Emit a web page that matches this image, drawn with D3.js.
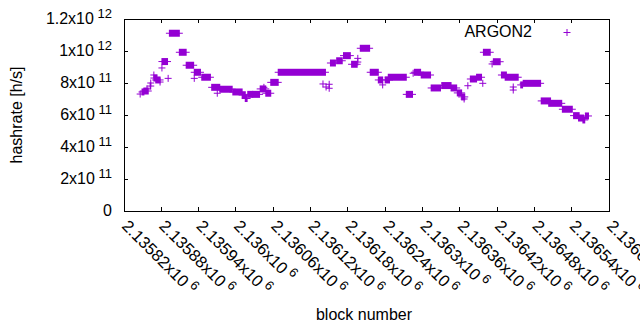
<!DOCTYPE html>
<html lang="en">
<head>
    <meta charset="UTF-8">
    <title>ARGON2 hashrate</title>
    <script src="https://cdn.jsdelivr.net/npm/d3@7"></script>
    <style>
        body { margin: 0; background: #fff; }
        text { font-family: "Liberation Sans", Arial, sans-serif; fill: #000; }
    </style>
</head>
<body>
    <script>
        // runs of blocks with the same hashrate value (each block is one "+" point)
        const runStart = [2135846, 2135849, 2135852, 2135857, 2135862, 2135863, 2135868, 2135868, 2135871, 2135878,
            2135881, 2135881, 2135891, 2135893, 2135909, 2135920, 2135933, 2135933, 2135945, 2135961,
            2135970, 2135974, 2135995, 2136010, 2136015, 2136019, 2136027, 2136039, 2136045, 2136048,
            2136056, 2136068, 2136140, 2136145, 2136150, 2136150, 2136152, 2136162, 2136173, 2136186,
            2136196, 2136196, 2136200, 2136216, 2136229, 2136236, 2136240, 2136245, 2136274, 2136285,
            2136287, 2136298, 2136314, 2136331, 2136346, 2136356, 2136363, 2136367, 2136373, 2136377,
            2136387, 2136397, 2136398, 2136412, 2136414, 2136427, 2136433, 2136446, 2136446, 2136458,
            2136462, 2136491, 2136503, 2136525, 2136543, 2136551, 2136558, 2136562];
        const runEnd = [2135846, 2135852, 2135859, 2135857, 2135863, 2135863, 2135868, 2135873, 2135878, 2135878,
            2135881, 2135890, 2135891, 2135909, 2135920, 2135932, 2135933, 2135943, 2135959, 2135974,
            2135970, 2135994, 2136010, 2136015, 2136018, 2136027, 2136038, 2136048, 2136045, 2136056,
            2136068, 2136144, 2136140, 2136145, 2136150, 2136150, 2136160, 2136171, 2136184, 2136195,
            2136196, 2136196, 2136215, 2136229, 2136236, 2136236, 2136247, 2136274, 2136284, 2136285,
            2136297, 2136313, 2136329, 2136346, 2136355, 2136363, 2136368, 2136367, 2136373, 2136387,
            2136395, 2136397, 2136409, 2136412, 2136425, 2136435, 2136454, 2136446, 2136446, 2136461,
            2136490, 2136506, 2136524, 2136541, 2136552, 2136559, 2136561, 2136567];
        const runHashrate = [7.31e11, 7.44e11, 7.5e11, 7.63e11, 7.81e11, 8.0e11, 8.5e11, 8.31e11, 8.19e11, 8.06e11,
            8.94e11, 9.34e11, 8.29e11, 11.11e11, 9.92e11, 9.11e11, 8.29e11, 8.67e11, 8.36e11, 7.73e11,
            7.36e11, 7.61e11, 7.44e11, 7.25e11, 7.03e11, 7.29e11, 7.29e11, 7.63e11, 7.73e11, 7.36e11,
            8.04e11, 8.67e11, 7.94e11, 7.75e11, 7.92e11, 7.67e11, 9.25e11, 9.39e11, 9.71e11, 9.17e11,
            9.54e11, 9.31e11, 10.17e11, 8.67e11, 8.19e11, 7.88e11, 8.19e11, 8.36e11, 7.29e11, 8.61e11,
            8.67e11, 8.5e11, 7.69e11, 7.84e11, 7.69e11, 7.38e11, 7.13e11, 7.0e11, 7.83e11, 8.25e11,
            8.36e11, 7.98e11, 9.92e11, 9.19e11, 9.33e11, 8.5e11, 8.36e11, 7.75e11, 7.56e11, 7.88e11,
            7.98e11, 6.88e11, 6.73e11, 6.36e11, 5.96e11, 5.81e11, 5.69e11, 5.94e11];

        const xTicks = d3.range(2135820, 2136601, 60);
        const yTicks = d3.range(0, 1.2e12 + 1, 2e11);
        const seriesName = "ARGON2";

        const width = 640, height = 330;
        const margin = { left: 124, right: 31, top: 19, bottom: 119 };
        const color = "#9400d3";
        const arm = 3.5;

        const svg = d3.select("body").append("svg")
            .attr("width", width)
            .attr("height", height);

        const x = d3.scaleLinear()
            .domain([2135820, 2136600])
            .range([margin.left, width - margin.right]);
        const y = d3.scaleLinear()
            .domain([0, 1.2e12])
            .range([height - margin.bottom, margin.top]);

        // split a number into mantissa and power of ten, gnuplot style
        function sci(v) {
            if (v === 0) return null;
            const e = Math.floor(Math.log10(v));
            const m = +(v / Math.pow(10, e)).toFixed(6);
            return [String(m), String(e)];
        }

        // ticks (inward, mirrored)
        const tickLen = 4;
        const g = svg.append("g").attr("stroke", "#000").attr("stroke-width", 1).attr("shape-rendering", "crispEdges");
        xTicks.forEach(t => {
            g.append("line").attr("x1", x(t)).attr("x2", x(t)).attr("y1", y(0)).attr("y2", y(0) - tickLen);
            g.append("line").attr("x1", x(t)).attr("x2", x(t)).attr("y1", y(1.2e12)).attr("y2", y(1.2e12) + tickLen);
        });
        yTicks.forEach(t => {
            g.append("line").attr("x1", x.range()[0]).attr("x2", x.range()[0] + tickLen).attr("y1", y(t)).attr("y2", y(t));
            g.append("line").attr("x1", x.range()[1]).attr("x2", x.range()[1] - tickLen).attr("y1", y(t)).attr("y2", y(t));
        });

        // y tick labels
        yTicks.forEach(t => {
            const txt = svg.append("text")
                .attr("x", margin.left - 12)
                .attr("y", y(t) + 5)
                .attr("text-anchor", "end")
                .style("font-size", "16px");
            const s = sci(t);
            if (!s) { txt.text("0"); return; }
            txt.append("tspan").text(s[0] + "x10");
            txt.append("tspan").attr("dy", -6.5).style("font-size", "13px").text(" " + s[1]);
        });

        // x tick labels, rotated
        xTicks.forEach(t => {
            const txt = svg.append("text")
                .attr("transform", `translate(${x(t) - 3},${y(0) + 16}) rotate(45)`)
                .attr("text-anchor", "start")
                .style("font-size", "16.5px");
            const m = +(t / 1e6).toFixed(6);
            txt.append("tspan").text(m + "x10");
            txt.append("tspan").attr("dy", -6.5).style("font-size", "13px").text(" 6");
        });

        // points: overlapping "+" markers along each run
        const runs = runStart.map((s, i) => ({ s: s, e: runEnd[i], v: runHashrate[i] }));
        const pts = svg.append("g");
        pts.selectAll("rect.run")
            .data(runs)
            .enter().append("rect")
            .attr("class", "run")
            .attr("x", d => x(d.s) - 0.5)
            .attr("width", d => x(d.e) - x(d.s) + 1)
            .attr("y", d => y(d.v) - arm)
            .attr("height", arm * 2)
            .attr("fill", color);
        pts.selectAll("line.run")
            .data(runs)
            .enter().append("line")
            .attr("class", "run")
            .attr("x1", d => x(d.s) - arm)
            .attr("x2", d => x(d.e) + arm)
            .attr("y1", d => y(d.v))
            .attr("y2", d => y(d.v))
            .attr("stroke", color)
            .attr("stroke-width", 1);

        // border
        svg.append("rect")
            .attr("x", margin.left)
            .attr("y", margin.top)
            .attr("width", x.range()[1] - margin.left)
            .attr("height", y(0) - margin.top)
            .attr("fill", "none")
            .attr("stroke", "#000")
            .attr("shape-rendering", "crispEdges");

        // legend
        svg.append("text")
            .attr("x", 532)
            .attr("y", 37)
            .attr("text-anchor", "end")
            .style("font-size", "16px")
            .text(seriesName);
        svg.append("path")
            .attr("d", `M${567 - arm},32.5H${567 + arm}M567,${32.5 - arm}V${32.5 + arm}`)
            .attr("stroke", color)
            .attr("stroke-width", 1);

        // axis titles
        svg.append("text")
            .attr("x", 364)
            .attr("y", 320)
            .attr("text-anchor", "middle")
            .style("font-size", "16px")
            .text("block number");
        svg.append("text")
            .attr("transform", "translate(22,115) rotate(-90)")
            .attr("text-anchor", "middle")
            .style("font-size", "16px")
            .text("hashrate [h/s]");
    </script>
</body>
</html>
